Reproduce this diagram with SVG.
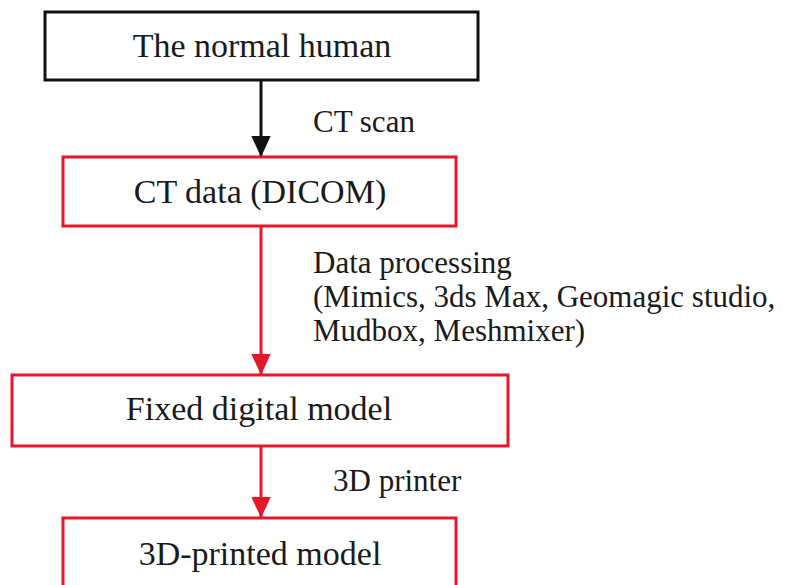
<svg xmlns="http://www.w3.org/2000/svg" width="785" height="585" viewBox="0 0 785 585">
  <defs>
    <style>
      .box { fill: #ffffff; stroke-width: 3; }
      .blk { stroke: #111111; }
      .red { stroke: #e4172b; }
      .t { font-family: "Liberation Serif", "Times New Roman", serif; fill: #1a1a1a; }
      .node { font-size: 34px; text-anchor: middle; }
      .lbl { font-size: 31px; }
      .line { stroke-width: 3; fill: none; }
    </style>
    <marker id="headBlack" viewBox="0 0 10 10" refX="10" refY="5" markerWidth="7" markerHeight="7" markerUnits="strokeWidth" orient="auto">
      <path d="M0,0.4 L10,5 L0,9.6 Z" fill="#111111"/>
    </marker>
    <marker id="headRed" viewBox="0 0 10 10" refX="10" refY="5" markerWidth="7" markerHeight="7" markerUnits="strokeWidth" orient="auto">
      <path d="M0,0.4 L10,5 L0,9.6 Z" fill="#e4172b"/>
    </marker>
  </defs>
  <rect width="785" height="585" fill="#ffffff"/>

  <g id="connectors">
    <line class="line blk" x1="261" y1="80" x2="261" y2="157" marker-end="url(#headBlack)"/>
    <line class="line red" x1="261" y1="226" x2="261" y2="375" marker-end="url(#headRed)"/>
    <line class="line red" x1="261" y1="446" x2="261" y2="518" marker-end="url(#headRed)"/>
    <text class="t lbl" x="313" y="132">CT scan</text>
    <text class="t lbl" x="313" y="273">Data processing</text>
    <text class="t lbl" x="313" y="307">(Mimics, 3ds Max, Geomagic studio,</text>
    <text class="t lbl" x="313" y="341">Mudbox, Meshmixer)</text>
    <text class="t lbl" x="333" y="491">3D printer</text>
  </g>

  <g id="node-human">
    <rect class="box blk" x="45" y="12" width="433" height="68"/>
    <text class="t node" x="262" y="57">The normal human</text>
  </g>
  <g id="node-ct">
    <rect class="box red" x="63" y="157" width="393" height="69"/>
    <text class="t node" x="260" y="203">CT data (DICOM)</text>
  </g>
  <g id="node-fixed">
    <rect class="box red" x="12" y="375" width="496" height="71"/>
    <text class="t node" x="259" y="420">Fixed digital model</text>
  </g>
  <g id="node-printed">
    <rect class="box red" x="63" y="518" width="393" height="80"/>
    <text class="t node" x="260" y="565">3D-printed model</text>
  </g>
</svg>
